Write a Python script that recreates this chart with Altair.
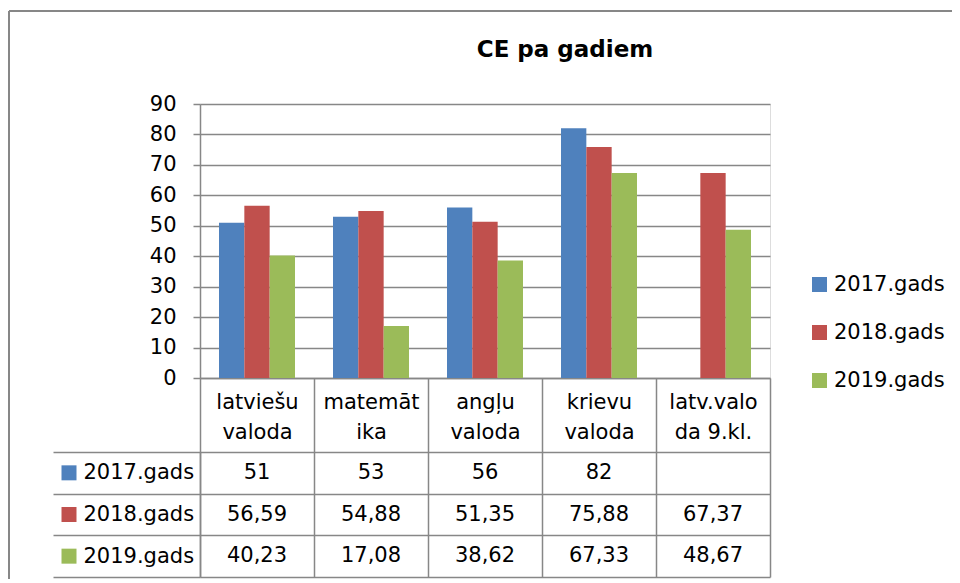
import json
import altair as alt
import pandas as pd

# ---------------- data ----------------
categories = ["latviešu valoda", "matemātika", "angļu valoda", "krievu valoda", "latv.valoda 9.kl."]
header_lines = [["latviešu", "valoda"], ["matemāt", "ika"], ["angļu", "valoda"],
                ["krievu", "valoda"], ["latv.valo", "da 9.kl."]]
years = ["2017.gads", "2018.gads", "2019.gads"]
values_2017 = [51, 53, 56, 82, None]
values_2018 = [56.59, 54.88, 51.35, 75.88, 67.37]
values_2019 = [40.23, 17.08, 38.62, 67.33, 48.67]
colors = ["#4F81BD", "#C0504D", "#9BBB59"]
y_ticks = [0, 10, 20, 30, 40, 50, 60, 70, 80, 90]
title_text = "CE pa gadiem"

rows = []
for year, vals in zip(years, [values_2017, values_2018, values_2019]):
    for cat, v in zip(categories, vals):
        label = "" if v is None else f"{v:g}".replace(".", ",")
        rows.append({"cat": cat, "year": year, "value": v, "label": label})
df = pd.DataFrame(rows)
bars_df = df.dropna(subset=["value"])
years_df = pd.DataFrame({"year": years})

# ---------------- style ----------------
FONT = "DejaVu Sans"
GRID = "#878787"
LW = 1.5
W, H = 570, 274
TABLE_RANGE = [348, 473]

expr = ""
for cat, lines in zip(categories, header_lines):
    expr += f"datum.value == '{cat}' ? {json.dumps(lines, ensure_ascii=False)} : "
expr += "datum.value"

x_enc = alt.X(
    "cat:N", sort=categories,
    scale=alt.Scale(domain=categories, paddingInner=0, paddingOuter=0),
    axis=alt.Axis(title=None, orient="bottom", domain=True, domainColor=GRID, domainWidth=LW,
                  ticks=True, tickBand="extent", tickSize=199, tickColor=GRID, tickWidth=LW,
                  labelExpr=expr, labelFont=FONT, labelFontSize=21, labelColor="black",
                  labelPadding=-175, labelBaseline="middle", labelLineHeight=30,
                  labelAngle=0, labelOverlap=False, grid=False),
)

color_enc = alt.Color(
    "year:N", sort=years,
    scale=alt.Scale(domain=years, range=colors),
    legend=alt.Legend(title=None, orient="none", legendX=609, legendY=170,
                      symbolType="square", symbolSize=225, symbolStrokeWidth=0,
                      labelFont=FONT, labelFontSize=21, labelColor="black",
                      labelOffset=4, rowPadding=26, padding=0),
)

y_bar = alt.Y(
    "value:Q",
    scale=alt.Scale(domain=[0, 90], nice=False, zero=True),
    axis=alt.Axis(title=None, orient="left", values=y_ticks, grid=True, gridColor=GRID,
                  gridWidth=LW, domainColor=GRID, domainWidth=LW, tickColor=GRID,
                  tickSize=7, tickWidth=LW, labelFont=FONT, labelFontSize=21,
                  labelColor="black", labelPadding=17),
)

table_scale = alt.Scale(domain=years, range=TABLE_RANGE, paddingInner=0, paddingOuter=0)

y_tab = alt.Y(
    "year:N", sort=years, scale=table_scale,
    axis=alt.Axis(title=None, orient="left", domain=True, domainColor=GRID, domainWidth=LW,
                  ticks=True, tickBand="extent", tickSize=147, tickColor=GRID, tickWidth=LW,
                  grid=True, gridColor=GRID, gridWidth=LW,
                  labelFont=FONT, labelFontSize=21, labelColor="black",
                  labelAlign="left", labelPadding=-30),
)

bars = alt.Chart(bars_df).mark_bar().encode(
    x=x_enc,
    xOffset=alt.XOffset("year:N", sort=years,
                        scale=alt.Scale(domain=years, paddingInner=0, paddingOuter=0.75)),
    y=y_bar,
    color=color_enc,
)

table_text = alt.Chart(df).mark_text(
    font=FONT, fontSize=21, color="black", baseline="middle", align="center"
).encode(x=x_enc, y=y_tab, text="label:N")

squares = alt.Chart(years_df).mark_square(size=225, opacity=1, strokeWidth=0).encode(
    x=alt.value(-131),
    y=alt.Y("year:N", sort=years, scale=table_scale, axis=None),
    color=color_enc,
)

frame_df = pd.DataFrame({"k": [0]})
frame_left = alt.Chart(frame_df).mark_rule(color=GRID, strokeWidth=2).encode(
    x=alt.value(-191), y=alt.value(-93), y2=alt.value(480)
)
frame_top = alt.Chart(frame_df).mark_rule(color=GRID, strokeWidth=2).encode(
    x=alt.value(-191), x2=alt.value(760), y=alt.value(-93)
)

chart = alt.layer(frame_left, frame_top, bars, table_text, squares).resolve_scale(
    y="independent"
).properties(
    width=W, height=H,
    title=alt.TitleParams(title_text, font=FONT, fontSize=23, fontWeight="bold",
                          color="black", anchor="middle", frame="group", dx=80, dy=56),
    autosize=alt.AutoSizeParams(type="none"),
    padding={"left": 192, "top": 96, "right": 182, "bottom": 201},
).configure_view(stroke=None).configure(background="white")

chart.save("out.html", embed_options={"renderer": "svg", "actions": False})
